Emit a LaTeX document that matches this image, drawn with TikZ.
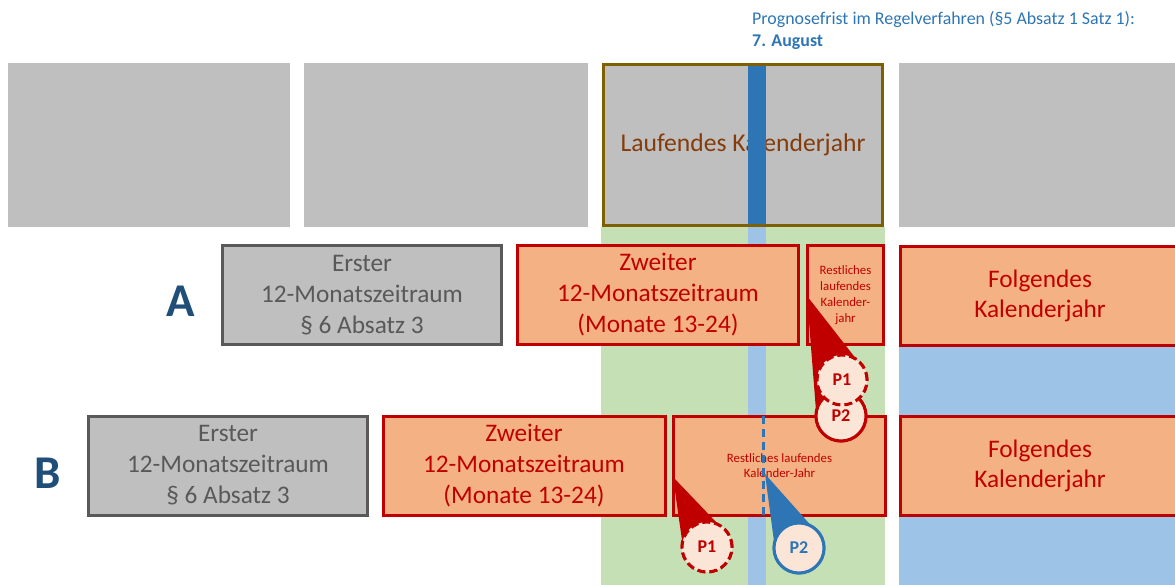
\documentclass[tikz,border=0pt]{standalone}
\usepackage{fontspec}
\setmainfont{Carlito}
\usetikzlibrary{calc}
\definecolor{cgray}{HTML}{BFBFBF}
\definecolor{cgborder}{HTML}{595959}
\definecolor{corange}{HTML}{F4B183}
\definecolor{cred}{HTML}{C00000}
\definecolor{cbrown}{HTML}{7F6000}
\definecolor{cbrowntext}{HTML}{843C0C}
\definecolor{cgreen}{HTML}{C5E0B4}
\definecolor{clblue}{HTML}{9DC3E6}
\definecolor{cdblue}{HTML}{2E75B6}
\definecolor{cnavy}{HTML}{1F4E79}
\definecolor{clight}{HTML}{FBE5D6}
\tikzset{
  topgray/.style={fill=cgray, draw=none, inner sep=0pt, minimum height=164pt},
  ersterbox/.style={fill=cgray, draw=cgborder, line width=3pt, text=cgborder, align=center,
     inner sep=0pt, minimum width=279pt, minimum height=99pt, font=\fontsize{25.3}{31}\selectfont},
  orangebox/.style={fill=corange, draw=cred, line width=3pt, text=cred, align=center,
     inner sep=0pt, minimum height=99pt, font=\fontsize{25.3}{31}\selectfont},
  folgbox/.style={orangebox, minimum width=280pt, font=\fontsize{25.3}{30}\selectfont},
  rowlabel/.style={text=cnavy, font=\bfseries\fontsize{47}{47}\selectfont},
  callout/.style={circle, fill=clight, line width=3pt, minimum size=50pt, inner sep=0pt,
     font=\bfseries\fontsize{18}{18}\selectfont},
  redcall/.style={callout, draw=cred, text=cred},
  redcalldash/.style={redcall, dash pattern=on 8pt off 4pt},
  bluecall/.style={callout, draw=cdblue, text=cdblue},
}
\begin{document}
\begin{tikzpicture}[x=1pt, y=-1pt]
\useasboundingbox (0,0) rectangle (1175,585);
% background columns
\fill[cgreen] (601,227) rectangle (885,585);
\fill[clblue] (899,245) rectangle (1175,585);
\fill[clblue] (748,227) rectangle (766,585);
% top row
\node[topgray, minimum width=282pt] (g1) at (149,145) {};
\node[topgray, minimum width=284pt] (g2) at (446,145) {};
\node[topgray, minimum width=276pt] (g4) at (1037,145) {};
\node[topgray, minimum width=282pt, text=cbrowntext, font=\fontsize{25.6}{30}\selectfont] (cur) at (743,145) {Laufendes Kalenderjahr};
\fill[cdblue] (748,64) rectangle (766,226);
\draw[cbrown, line width=3pt] ($(cur.north west)+(1.5,1.5)$) rectangle ($(cur.south east)+(-1.5,-1.5)$);
% annotation
\node[anchor=base west, inner sep=0pt, text=cdblue, font=\fontsize{17.9}{22}\selectfont] (prog) at (752,25) {Prognosefrist im Regelverfahren (§5 Absatz 1 Satz 1):};
\node[anchor=base west, inner sep=0pt, text=cdblue, font=\bfseries\fontsize{17.9}{22}\selectfont] (aug) at (752,47) {7. August};
% row A
\node[rowlabel] (labA) at (181,301) {A};
\node[ersterbox] (erstA) at (362,295) {Erster\\12-Monatszeitraum\\§ 6 Absatz 3};
\node[orangebox, minimum width=281pt] (zweiA) at (658,295) {Zweiter\\12-Monatszeitraum\\(Monate 13-24)};
\node[orangebox, minimum width=76pt, font=\fontsize{12.8}{16}\selectfont] (restA) at (845.5,295) {Restliches\\laufendes\\Kalender-\\jahr};
\node[folgbox] (folgA) at (1040,296) {Folgendes\\Kalenderjahr};
% row B
\node[rowlabel] (labB) at (48,473) {B};
\node[ersterbox] (erstB) at (228,465.5) {Erster\\12-Monatszeitraum\\§ 6 Absatz 3};
\node[orangebox, minimum width=282pt] (zweiB) at (524,465.5) {Zweiter\\12-Monatszeitraum\\(Monate 13-24)};
\node[orangebox, minimum width=212pt, font=\fontsize{12.8}{15}\selectfont] (restB) at (779.5,466) {Restliches laufendes\\Kalender-Jahr};
\node[folgbox] (folgB) at (1040,466) {Folgendes\\Kalenderjahr};
\draw[cdblue, line width=3pt, dash pattern=on 8pt off 5pt] (763,416) -- (763,515);
% callouts A
\coordinate (tipA) at (807,296);
\node[redcall] (p2a) at (841,416) {P2};
\node[redcalldash] (p1a) at (842,380) {P1};
\fill[cred] (tipA) -- ($(p2a.center)!25pt!90:(tipA)$) -- ($(p2a.center)!25pt!-90:(tipA)$) -- cycle;
\node[redcall] at (p2a) {P2};
\fill[cred] (tipA) -- ($(p1a.center)!25pt!90:(tipA)$) -- ($(p1a.center)!25pt!-90:(tipA)$) -- cycle;
\node[redcalldash] at (p1a) {P1};
% callouts B
\coordinate (tipB1) at (673,477);
\coordinate (tipB2) at (765,474);
\node[redcalldash] (p1b) at (707,547) {P1};
\node[bluecall] (p2b) at (799,548) {P2};
\fill[cred] (tipB1) -- ($(p1b.center)!25pt!90:(tipB1)$) -- ($(p1b.center)!25pt!-90:(tipB1)$) -- cycle;
\node[redcalldash] at (p1b) {P1};
\fill[cdblue] (tipB2) -- ($(p2b.center)!25pt!90:(tipB2)$) -- ($(p2b.center)!25pt!-90:(tipB2)$) -- cycle;
\node[bluecall] at (p2b) {P2};
\end{tikzpicture}
\end{document}
